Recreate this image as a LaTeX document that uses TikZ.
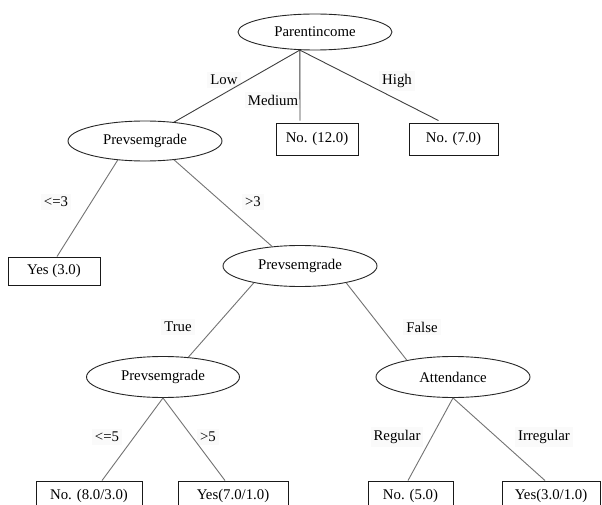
\documentclass[tikz,border=0pt]{standalone}
\usepackage{fontspec}
\setmainfont{Liberation Serif}
\usetikzlibrary{shapes.geometric}
\begin{document}
\begin{tikzpicture}[x=1pt,y=-1pt,
  every node/.style={font=\rmfamily\fontsize{14.8}{17}\selectfont, inner sep=0pt},
  attr/.style={ellipse, draw=black!85, line width=0.9pt, minimum width=154pt, minimum height=40pt},
  leaf/.style={rectangle, draw=black!90, line width=0.9pt, minimum height=29pt},
  edgelbl/.style={fill=black!2, inner sep=3pt},
  conn/.style={draw=black!55, line width=0.9pt},
  rootconn/.style={draw=black!75, line width=0.9pt}]
\clip (0,0) rectangle (602,505);
\fill[white] (0,0) rectangle (602,505);

% edge labels (behind the connectors)
\node[edgelbl] (lLow) at (224,80) {Low};
\node[edgelbl] (lMed) at (273,100) {Medium};
\node[edgelbl] (lHigh) at (397,81) {High};
\node[edgelbl] (lle3) at (56,202) {<=3};
\node[edgelbl] (lgt3) at (253,202) {>3};
\node[edgelbl] (lTrue) at (178,327) {True};
\node[edgelbl] (lFalse) at (422,327) {False};
\node[edgelbl] (lle5) at (107,437) {<=5};
\node[edgelbl] (lgt5) at (208,437) {>5};
\node[edgelbl] (lReg) at (397,437) {Regular};
\node[edgelbl] (lIrr) at (544,437) {Irregular};

% attribute nodes
\node[attr, minimum height=36pt] (root) at (315,32) {Parentincome};
\node[attr] (lp) at (145,141) {Prevsemgrade};
\node[attr, minimum height=41pt] (mp) at (300,266) {Prevsemgrade};
\node[attr, minimum height=41pt, minimum width=153pt] (bp) at (163,377) {Prevsemgrade};
\node[attr, minimum height=41pt] (att) at (453,377) {Attendance};

% leaf nodes
\node[leaf, minimum width=82pt, minimum height=32pt] (n12) at (317,139) {No. (12.0)};
\node[leaf, minimum width=89pt, minimum height=32pt] (n7) at (453.5,139) {No. (7.0)};
\node[leaf, minimum width=92pt, minimum height=28pt] (y3) at (54,271) {Yes (3.0)};
\node[leaf, minimum width=106pt] (n83) at (89,495.5) {No. (8.0/3.0)};
\node[leaf, minimum width=110pt] (y71) at (233,495.5) {Yes(7.0/1.0)};
\node[leaf, minimum width=85pt] (n5) at (410.5,495.5) {No. (5.0)};
\node[leaf, minimum width=98pt] (y31) at (551,495.5) {Yes(3.0/1.0)};

% connectors
\draw[rootconn] (root.230) -- (lp.33);
\draw[rootconn] (root.230) -- ([xshift=-17pt,yshift=2pt]n12.north);
\draw[rootconn] (root.230) -- ([xshift=-15pt,yshift=2pt]n7.north);
\draw[conn] (lp.215) -- ([xshift=3pt]y3.north);
\draw[conn] (lp.327) -- (mp.145);
\draw[conn] (mp.200) -- (bp.38);
\draw[conn] (mp.340) -- (att.160);
\draw[conn] (bp.south) -- ([xshift=13pt]n83.north);
\draw[conn] (bp.south) -- ([xshift=-8pt]y71.north);
\draw[conn] (att.south) -- ([xshift=-2.5pt]n5.north);
\draw[conn] (att.south) -- ([xshift=-6pt]y31.north);
\end{tikzpicture}
\end{document}
